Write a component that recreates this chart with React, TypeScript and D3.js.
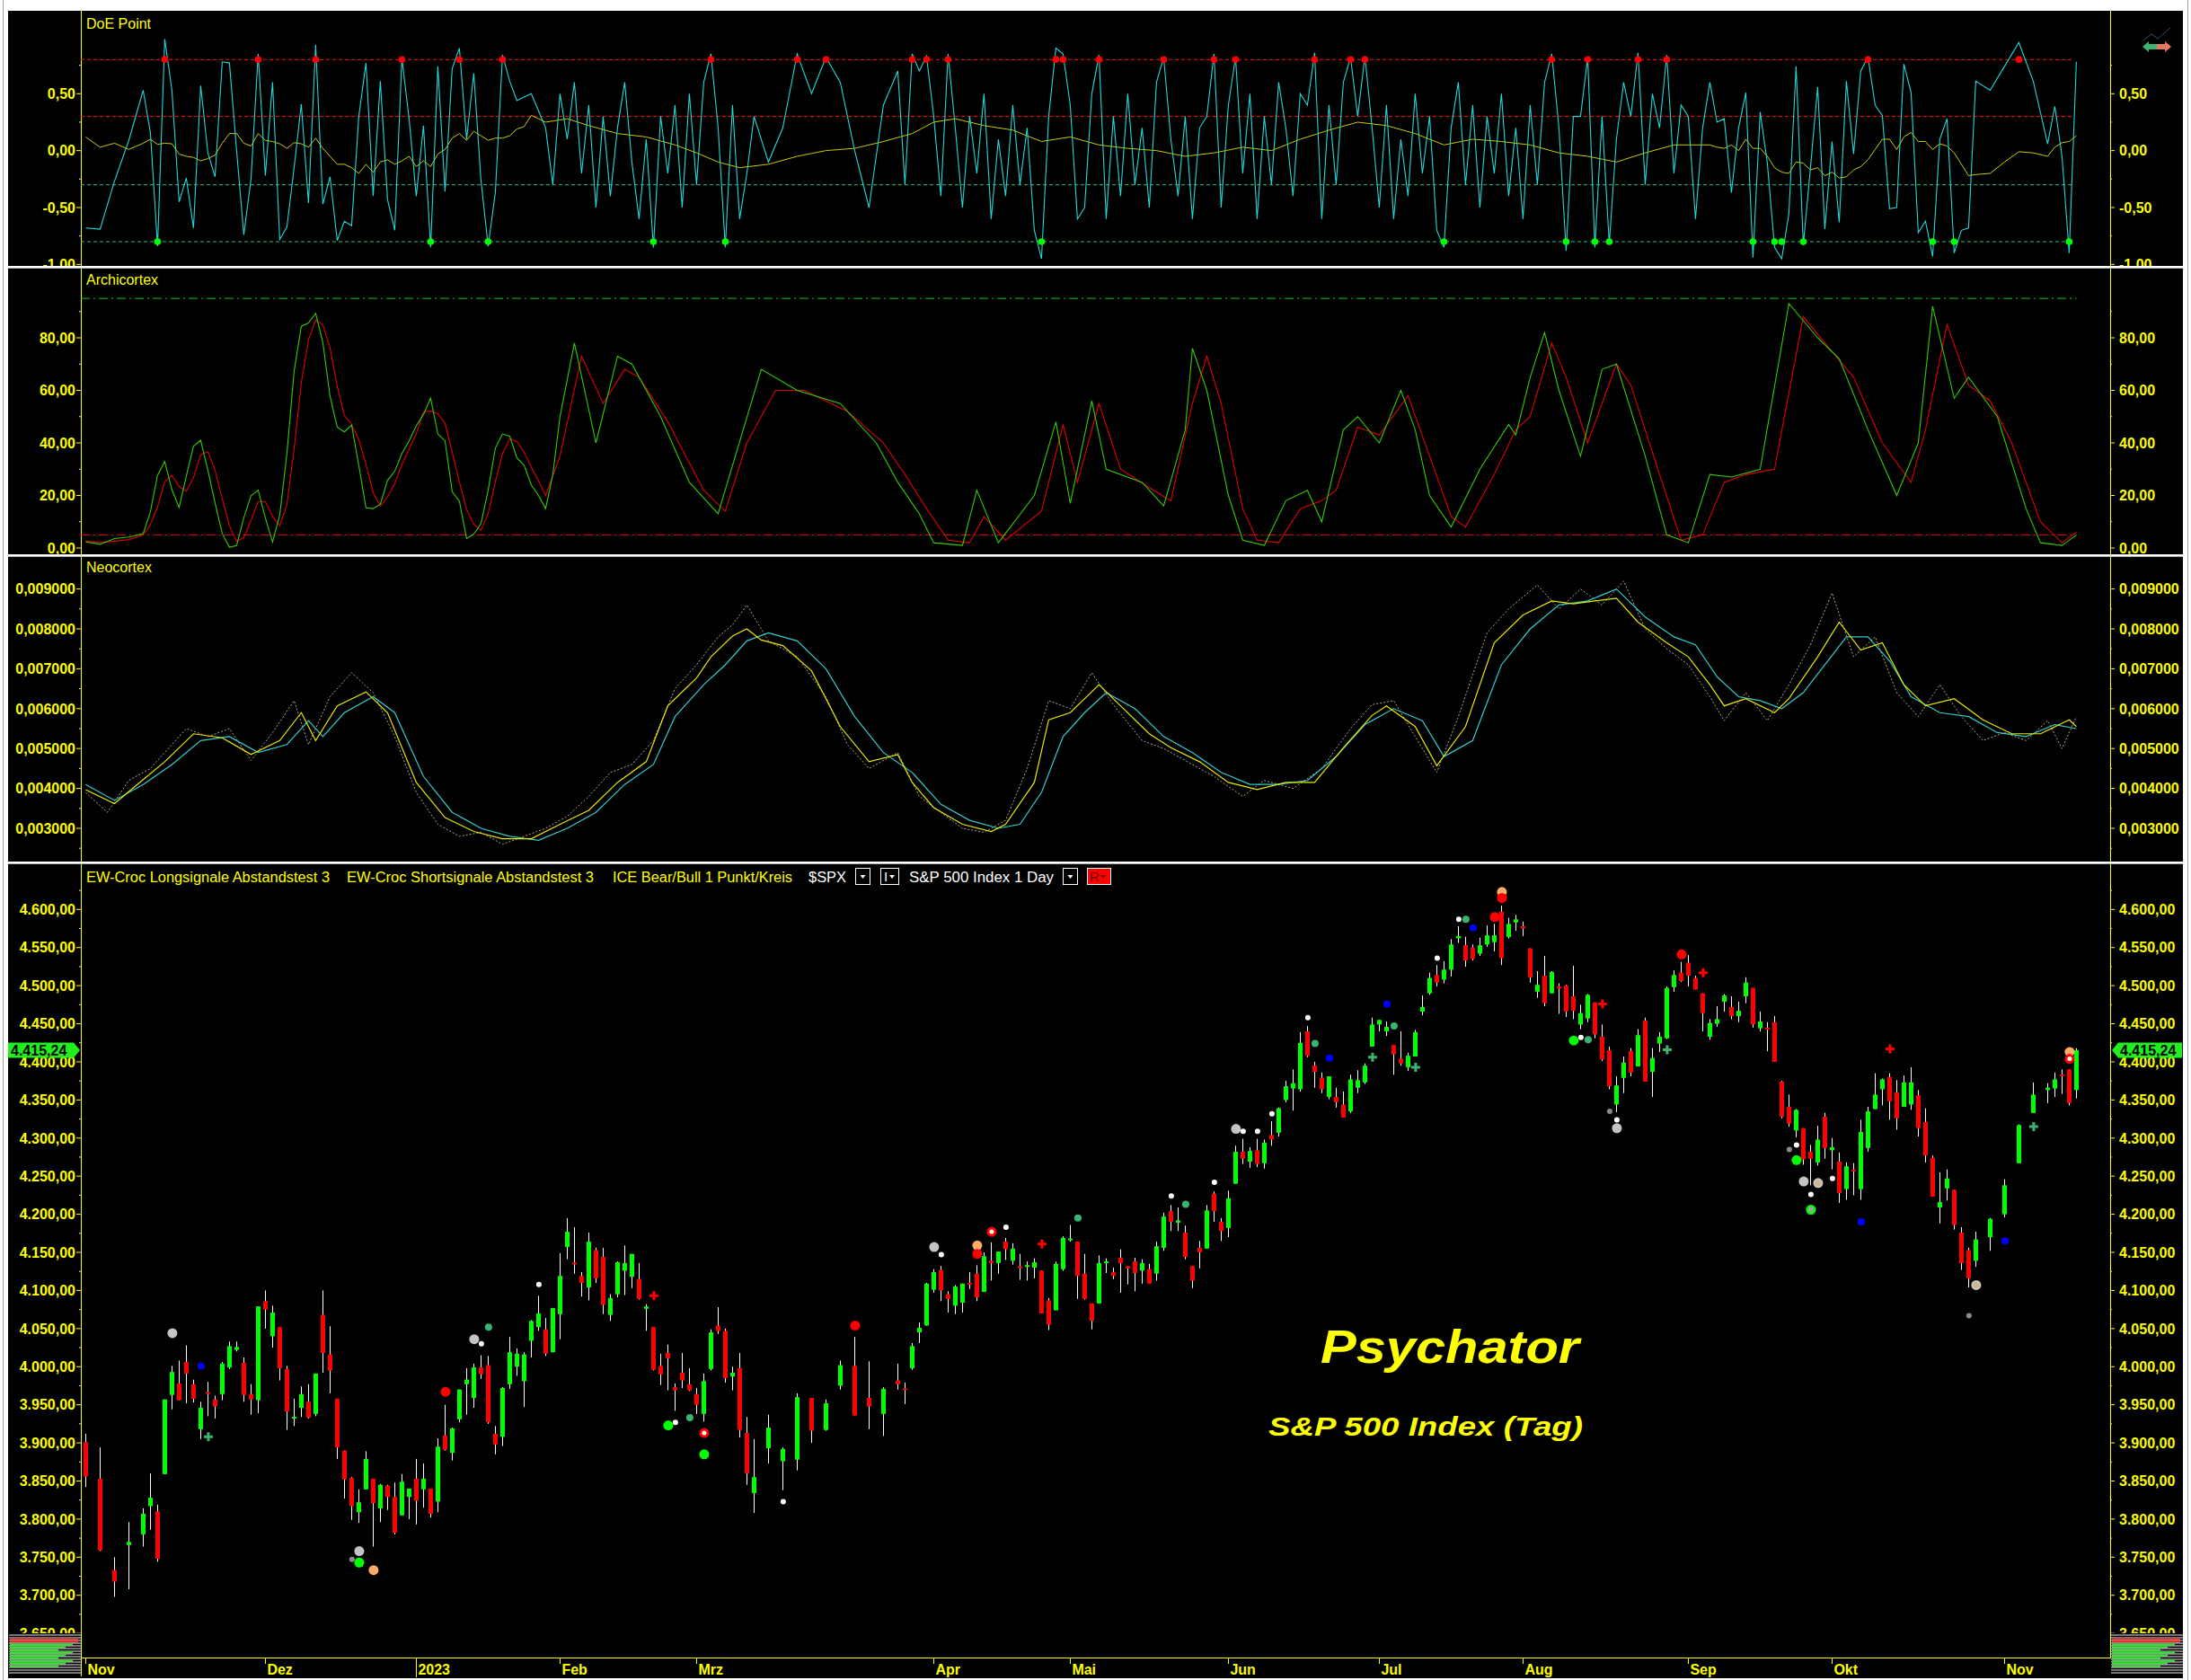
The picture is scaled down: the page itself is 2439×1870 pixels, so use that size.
import React from "react";
import * as d3 from "d3";

// ---------------- DATA ----------------
// bar slot index on the time axis (trading days, with gaps as in the source chart)
const barSlot = [
  0, 2, 4, 6, 8, 9, 10, 11, 12, 13,
  14, 15, 16, 17, 18, 19, 20, 21, 22, 23,
  24, 25, 26, 27, 28, 29, 30, 31, 32, 33,
  34, 35, 36, 37, 38, 39, 40, 41, 42, 43,
  44, 45, 46, 47, 48, 49, 50, 51, 52, 53,
  54, 55, 56, 57, 58, 59, 60, 61, 62, 63,
  64, 65, 66, 67, 68, 69, 70, 71, 72, 73,
  74, 75, 76, 77, 78, 79, 80, 81, 82, 83,
  84, 85, 86, 87, 88, 89, 90, 91, 92, 93,
  95, 97, 99, 101, 103, 105, 107, 109, 111, 113,
  114, 115, 116, 117, 118, 119, 120, 121, 122, 123,
  124, 125, 126, 127, 128, 129, 130, 131, 132, 133,
  134, 135, 136, 137, 138, 139, 140, 141, 142, 143,
  144, 145, 146, 147, 148, 149, 150, 151, 152, 153,
  154, 155, 156, 157, 158, 159, 160, 161, 162, 163,
  164, 165, 166, 167, 168, 169, 170, 171, 172, 173,
  174, 175, 176, 177, 178, 179, 180, 181, 182, 183,
  184, 185, 186, 187, 188, 189, 190, 191, 192, 193,
  194, 195, 196, 197, 198, 199, 200, 201, 202, 203,
  204, 205, 206, 207, 208, 209, 210, 211, 212, 213,
  214, 215, 216, 217, 218, 219, 220, 221, 222, 223,
  224, 225, 226, 227, 228, 229, 230, 231, 232, 233,
  234, 235, 236, 237, 238, 239, 240, 241, 242, 243,
  244, 245, 246, 247, 248, 249, 250, 251, 252, 253,
  254, 255, 256, 257, 258, 259, 260, 261, 262, 263,
  265, 267, 269, 271, 273, 274, 275, 276, 277,
];
const barOpen = [
  3901, 3853, 3733, 3766, 3780, 3817, 3810, 3859, 3963, 3978,
  4006, 3977, 3918, 3966, 3957, 3964, 3999, 4022, 4005, 3964,
  3956, 4086, 4040, 4052, 3997, 3932, 3946, 3954, 3938, 4068,
  4016, 3958, 3890, 3854, 3809, 3839, 3853, 3814, 3844, 3829,
  3805, 3829, 3853, 3839, 3840, 3823, 3910, 3887, 3931, 3977,
  3959, 3999, 4002, 3912, 3908, 3977, 4000, 3981, 4034, 4052,
  4049, 4019, 4069, 4157, 4136, 4119, 4104, 4153, 4144, 4068,
  4095, 4126, 4118, 4115, 4076, 4052, 4001, 4018, 3973, 3992,
  3977, 3964, 3938, 3997, 4054, 4047, 3987, 3998, 3913, 3834,
  3893, 3876, 3878, 3959, 3917, 3975, 4001, 3959, 3938, 3982,
  3971, 3998, 4045, 4054, 4101, 4127, 4095, 4080, 4084, 4110,
  4122, 4098, 4139, 4136, 4164, 4139, 4131, 4131, 4130, 4126,
  4087, 4074, 4128, 4166, 4164, 4122, 4083, 4083, 4136, 4124,
  4143, 4132, 4138, 4126, 4128, 4122, 4156, 4204, 4189, 4176,
  4132, 4156, 4155, 4227, 4190, 4182, 4240, 4282, 4269, 4284,
  4267, 4304, 4307, 4350, 4365, 4364, 4440, 4395, 4379, 4354,
  4354, 4344, 4335, 4366, 4373, 4420, 4449, 4440, 4422, 4404,
  4393, 4407, 4466, 4490, 4514, 4508, 4521, 4562, 4553, 4550,
  4542, 4554, 4557, 4597, 4564, 4583, 4578, 4549, 4492, 4513,
  4490, 4499, 4500, 4486, 4449, 4457, 4478, 4433, 4415, 4344,
  4379, 4414, 4394, 4454, 4387, 4424, 4431, 4498, 4517, 4530,
  4510, 4490, 4433, 4450, 4479, 4472, 4460, 4486, 4497, 4444,
  4444, 4452, 4374, 4341, 4310, 4313, 4282, 4268, 4328, 4284,
  4269, 4233, 4258, 4233, 4287, 4338, 4364, 4380, 4360, 4341,
  4344, 4356, 4321, 4274, 4209, 4234, 4232, 4176, 4153, 4139,
  4170, 4200, 4267, 4333, 4363, 4365, 4383, 4390, 4363,
];
const barHigh = [
  3912, 3894, 3750, 3796, 3814, 3860, 3819, 3957, 4001, 4008,
  4028, 3983, 3954, 3980, 3962, 4006, 4033, 4033, 4012, 3977,
  4079, 4100, 4080, 4052, 4001, 3958, 3974, 3977, 3991, 4100,
  4053, 3958, 3890, 3855, 3839, 3889, 3853, 3846, 3845, 3848,
  3859, 3840, 3879, 3873, 3840, 3906, 3950, 3920, 3970, 3998,
  4004, 4015, 4014, 3922, 3973, 4039, 4024, 4019, 4061, 4093,
  4064, 4077, 4149, 4195, 4183, 4124, 4176, 4156, 4156, 4095,
  4138, 4159, 4148, 4136, 4082, 4052, 4017, 4029, 3978, 4018,
  3998, 3972, 3991, 4049, 4078, 4050, 4000, 4018, 3934, 3905,
  3937, 3894, 3965, 3959, 3957, 4008, 4039, 4007, 3973, 4004,
  3979, 4031, 4058, 4110, 4128, 4132, 4099, 4107, 4109, 4124,
  4133, 4150, 4163, 4151, 4169, 4162, 4148, 4138, 4142, 4126,
  4090, 4138, 4171, 4186, 4164, 4148, 4083, 4146, 4142, 4130,
  4154, 4132, 4143, 4141, 4135, 4164, 4202, 4212, 4209, 4185,
  4132, 4165, 4212, 4230, 4195, 4231, 4290, 4299, 4288, 4299,
  4298, 4322, 4340, 4375, 4390, 4439, 4447, 4400, 4386, 4381,
  4366, 4361, 4383, 4389, 4398, 4458, 4455, 4453, 4422, 4440,
  4412, 4442, 4487, 4517, 4527, 4532, 4561, 4578, 4564, 4554,
  4563, 4579, 4581, 4605, 4589, 4593, 4584, 4549, 4519, 4539,
  4519, 4503, 4501, 4526, 4475, 4489, 4478, 4449, 4420, 4381,
  4407, 4418, 4443, 4458, 4418, 4439, 4499, 4520, 4531, 4540,
  4513, 4490, 4456, 4473, 4489, 4486, 4479, 4511, 4497, 4466,
  4452, 4460, 4375, 4357, 4338, 4313, 4291, 4316, 4333, 4300,
  4281, 4268, 4267, 4324, 4341, 4385, 4378, 4385, 4376, 4382,
  4393, 4363, 4339, 4277, 4255, 4259, 4232, 4183, 4156, 4177,
  4195, 4246, 4318, 4373, 4372, 4386, 4390, 4390, 4418,
];
const barLow = [
  3842, 3758, 3698, 3708, 3764, 3786, 3744, 3859, 3944, 3956,
  3952, 3953, 3905, 3935, 3932, 3956, 3997, 4020, 3954, 3937,
  3939, 4050, 4025, 3982, 3917, 3922, 3934, 3932, 3935, 3992,
  3965, 3879, 3827, 3799, 3795, 3839, 3764, 3796, 3812, 3780,
  3805, 3800, 3793, 3815, 3802, 3809, 3890, 3877, 3927, 3937,
  3946, 3984, 3925, 3885, 3896, 3971, 3988, 3947, 4012, 4047,
  4014, 4019, 4036, 4141, 4122, 4092, 4087, 4110, 4069, 4060,
  4091, 4094, 4103, 4088, 4047, 3995, 3976, 3969, 3942, 3972,
  3968, 3938, 3928, 3995, 4043, 3979, 3969, 3907, 3845, 3808,
  3873, 3838, 3864, 3900, 3916, 3970, 3936, 3918, 3909, 3970,
  3951, 3996, 4031, 4054, 4097, 4086, 4071, 4069, 4071, 4102,
  4086, 4098, 4113, 4122, 4140, 4134, 4114, 4113, 4116, 4070,
  4048, 4074, 4126, 4164, 4089, 4088, 4049, 4083, 4123, 4115,
  4097, 4108, 4099, 4109, 4109, 4113, 4152, 4178, 4178, 4141,
  4103, 4129, 4155, 4190, 4165, 4170, 4240, 4266, 4261, 4262,
  4260, 4290, 4302, 4347, 4336, 4361, 4406, 4366, 4359, 4351,
  4340, 4327, 4333, 4359, 4371, 4420, 4440, 4434, 4383, 4395,
  4388, 4407, 4461, 4488, 4499, 4503, 4512, 4556, 4525, 4533,
  4539, 4551, 4545, 4527, 4562, 4572, 4565, 4504, 4484, 4473,
  4490, 4463, 4459, 4456, 4443, 4452, 4431, 4401, 4364, 4334,
  4359, 4381, 4394, 4374, 4354, 4413, 4430, 4492, 4505, 4499,
  4495, 4440, 4429, 4446, 4466, 4456, 4452, 4477, 4445, 4440,
  4414, 4400, 4326, 4315, 4301, 4265, 4238, 4264, 4273, 4259,
  4215, 4219, 4225, 4219, 4282, 4338, 4343, 4324, 4311, 4341,
  4337, 4302, 4268, 4223, 4188, 4218, 4180, 4127, 4104, 4131,
  4152, 4196, 4267, 4333, 4346, 4354, 4358, 4343, 4352,
];
const barClose = [
  3856, 3759, 3718, 3770, 3807, 3828, 3748, 3957, 3993, 3956,
  3991, 3958, 3946, 3965, 3948, 4004, 4027, 4026, 3963, 3957,
  4079, 4075, 4071, 3998, 3941, 3934, 3964, 3933, 3991, 4018,
  3995, 3894, 3852, 3817, 3822, 3879, 3821, 3845, 3829, 3782,
  3849, 3840, 3824, 3853, 3807, 3895, 3891, 3919, 3970, 3983,
  3999, 3990, 3927, 3898, 3972, 4019, 4017, 4016, 4060, 4070,
  4017, 4077, 4119, 4177, 4135, 4110, 4164, 4116, 4081, 4090,
  4137, 4136, 4148, 4089, 4079, 3996, 3990, 4011, 3969, 3982,
  3969, 3950, 3981, 4045, 4047, 3985, 3992, 3917, 3860, 3855,
  3920, 3892, 3960, 3916, 3952, 4002, 3936, 3948, 3971, 3977,
  3970, 4027, 4051, 4109, 4124, 4100, 4089, 4105, 4109, 4108,
  4091, 4145, 4136, 4151, 4154, 4155, 4130, 4133, 4137, 4070,
  4055, 4135, 4169, 4168, 4119, 4089, 4060, 4136, 4138, 4119,
  4136, 4129, 4123, 4136, 4109, 4158, 4197, 4190, 4192, 4144,
  4113, 4150, 4205, 4204, 4178, 4221, 4282, 4273, 4283, 4266,
  4294, 4298, 4339, 4368, 4372, 4425, 4408, 4387, 4364, 4381,
  4347, 4327, 4377, 4376, 4395, 4449, 4455, 4446, 4410, 4398,
  4408, 4439, 4472, 4510, 4504, 4521, 4554, 4565, 4533, 4535,
  4553, 4566, 4566, 4536, 4581, 4587, 4575, 4511, 4501, 4477,
  4518, 4496, 4466, 4467, 4464, 4488, 4436, 4403, 4368, 4369,
  4399, 4386, 4435, 4374, 4405, 4433, 4497, 4514, 4506, 4513,
  4495, 4464, 4451, 4456, 4487, 4460, 4467, 4504, 4449, 4453,
  4443, 4400, 4328, 4319, 4337, 4272, 4273, 4298, 4287, 4288,
  4228, 4263, 4257, 4308, 4335, 4357, 4377, 4348, 4326, 4373,
  4373, 4313, 4277, 4223, 4216, 4247, 4186, 4136, 4116, 4167,
  4194, 4238, 4317, 4357, 4366, 4377, 4382, 4346, 4415.24,
];

// signal markers on the price chart: [slot, price, kind]
const priceMarkers: [number, number, string][] = [
  [12, 4044, "gray"], [16, 4001, "blue"], [17, 3908, "tealCross"], [50, 3967, "red"],
  [54, 4036, "gray"], [55, 4030, "white"], [56, 4052, "teal"], [63, 4108, "white"],
  [38, 3758, "gray"], [37, 3747, "graySmall"], [38, 3743, "green"], [40, 3733, "orange"],
  [79, 4093, "redCross"], [81, 3923, "green"], [82, 3927, "white"], [84, 3933, "teal"],
  [86, 3913, "redRing"], [86, 3885, "green"], [97, 3823, "white"], [107, 4054, "red"],
  [118, 4157, "gray"], [119, 4147, "white"], [124, 4159, "orange"], [124, 4148, "red"],
  [126, 4177, "redRing"], [128, 4183, "white"], [133, 4161, "redCross"], [138, 4195, "teal"],
  [151, 4224, "white"], [153, 4213, "teal"], [157, 4242, "white"], [160, 4312, "gray"],
  [161, 4309, "white"], [163, 4309, "white"], [165, 4332, "white"], [170, 4458, "white"],
  [171, 4424, "teal"], [173, 4405, "blue"], [179, 4406, "tealCross"], [181, 4476, "blue"],
  [182, 4447, "teal"], [185, 4393, "tealCross"], [188, 4536, "white"], [191, 4587, "white"],
  [192, 4587, "teal"], [193, 4576, "blue"], [196, 4590, "red"], [197, 4623, "orange"],
  [197, 4615, "red"], [207, 4428, "green"], [208, 4432, "white"], [209, 4429, "teal"],
  [211, 4476, "redCross"], [220, 4416, "tealCross"], [222, 4541, "red"], [225, 4517, "redCross"],
  [212, 4335, "graySmall"], [213, 4324, "white"], [213, 4313, "gray"], [251, 4417, "redCross"],
  [271, 4315, "tealCross"], [237, 4285, "graySmall"], [238, 4291, "white"], [238, 4271, "green"],
  [239, 4243, "gray"], [241, 4241, "tan"], [243, 4247, "white"], [240, 4226, "white"],
  [240, 4206, "greenRing"], [247, 4190, "blue"], [267, 4165, "blue"], [263, 4107, "tan"],
  [262, 4067, "graySmall"], [276, 4413, "orange"], [276, 4404, "redRing"],
];

// DoE Point oscillator: [slot, value]
const doeCyan: [number, number][] = [
  [0, -0.68], [2, -0.69], [4, -0.27], [6, 0.09], [8, 0.53], [9, 0.16], [10, -0.84], [11, 0.98], [12, 0.53], [13, -0.45],
  [14, -0.24], [15, -0.68], [16, 0.57], [17, -0.02], [18, -0.23], [19, 0.78], [20, 0.77], [21, 0.0], [22, -0.74], [23, -0.25],
  [24, 0.85], [25, -0.22], [26, 0.6], [27, -0.78], [28, -0.67], [29, -0.15], [30, 0.41], [31, -0.46], [32, 0.93], [33, -0.47],
  [34, -0.23], [35, -0.79], [36, -0.62], [37, -0.66], [38, 0.3], [39, 0.77], [40, -0.4], [41, 0.61], [42, -0.43], [43, -0.7],
  [44, 0.81], [45, 0.28], [46, -0.4], [47, 0.22], [48, -0.85], [49, 0.74], [50, -0.36], [51, 0.72], [52, 0.9], [53, 0.1],
  [54, 0.68], [55, -0.26], [56, -0.84], [57, -0.37], [58, 0.84], [59, 0.61], [60, 0.44], [61, 0.47], [62, 0.5], [63, 0.35],
  [64, 0.2], [65, -0.3], [66, 0.5], [67, 0.1], [68, 0.6], [69, -0.2], [70, 0.4], [71, -0.5], [72, 0.3], [73, -0.4],
  [74, 0.2], [75, 0.6], [76, -0.1], [77, -0.6], [78, 0.1], [79, -0.85], [80, 0.3], [81, -0.2], [82, 0.4], [83, -0.5],
  [84, 0.5], [85, -0.3], [86, 0.6], [87, 0.85], [88, 0.2], [89, -0.85], [90, 0.4], [91, -0.6], [92, -0.2], [93, 0.3],
  [95, -0.1], [97, 0.2], [99, 0.85], [101, 0.5], [103, 0.82], [105, 0.6], [107, 0.0], [109, -0.5], [111, 0.4], [113, 0.7],
  [114, -0.3], [115, 0.85], [116, 0.7], [117, 0.83], [118, 0.3], [119, -0.4], [120, 0.85], [121, 0.2], [122, -0.5], [123, 0.3],
  [124, -0.2], [125, 0.5], [126, -0.6], [127, 0.1], [128, -0.4], [129, 0.4], [130, -0.3], [131, 0.2], [132, -0.7], [133, -0.95],
  [134, 0.3], [135, 0.9], [136, 0.85], [137, 0.4], [138, -0.6], [139, -0.5], [140, 0.5], [141, 0.84], [142, -0.6], [143, 0.3],
  [144, -0.4], [145, 0.5], [146, -0.3], [147, 0.2], [148, -0.5], [149, 0.6], [150, 0.82], [151, 0.1], [152, -0.4], [153, 0.3],
  [154, -0.6], [155, 0.2], [156, 0.3], [157, 0.85], [158, -0.5], [159, 0.4], [160, 0.82], [161, -0.2], [162, 0.5], [163, -0.6],
  [164, 0.3], [165, -0.3], [166, 0.6], [167, 0.2], [168, -0.4], [169, 0.5], [170, 0.4], [171, 0.86], [172, -0.6], [173, 0.4],
  [174, -0.3], [175, 0.6], [176, 0.82], [177, 0.3], [178, 0.83], [179, 0.2], [180, -0.5], [181, 0.4], [182, -0.6], [183, 0.1],
  [184, -0.4], [185, 0.5], [186, -0.2], [187, 0.3], [188, -0.7], [189, -0.85], [190, 0.2], [191, 0.6], [192, -0.3], [193, 0.4],
  [194, -0.5], [195, 0.3], [196, -0.2], [197, 0.5], [198, -0.4], [199, 0.2], [200, -0.6], [201, 0.4], [202, -0.3], [203, 0.6],
  [204, 0.85], [205, 0.2], [206, -0.88], [207, 0.3], [208, 0.3], [209, 0.82], [210, -0.85], [211, 0.3], [212, -0.82], [213, 0.1],
  [214, 0.6], [215, 0.3], [216, 0.86], [217, -0.3], [218, 0.5], [219, 0.2], [220, 0.84], [221, -0.2], [222, 0.4], [223, 0.3],
  [224, -0.6], [225, 0.2], [226, 0.6], [227, 0.25], [228, 0.28], [229, -0.37], [230, 0.2], [231, 0.51], [232, -0.94], [233, 0.34],
  [234, -0.11], [235, -0.85], [236, -0.95], [237, -0.55], [238, 0.74], [239, -0.83], [240, -0.15], [241, 0.56], [242, -0.69], [243, 0.08],
  [244, -0.63], [245, 0.61], [246, -0.03], [247, 0.7], [248, 0.82], [249, 0.4], [250, 0.31], [251, -0.51], [252, -0.5], [253, 0.76],
  [254, 0.51], [255, -0.72], [256, -0.62], [257, -0.93], [258, 0.1], [259, 0.28], [260, -0.9], [261, -0.7], [262, -0.68], [263, 0.61],
  [265, 0.53], [267, 0.74], [269, 0.95], [271, 0.61], [273, 0.06], [274, 0.39], [275, -0.05], [276, -0.9], [277, 0.78],
];
const doeYellow: [number, number][] = [
  [0, 0.12], [2, 0.03], [4, 0.065], [6, 0.01], [8, 0.065], [9, 0.1], [10, 0.055], [11, 0.065], [12, 0.06], [13, -0.03],
  [14, -0.05], [15, -0.06], [16, -0.09], [17, -0.07], [18, -0.04], [19, 0.065], [20, 0.15], [21, 0.15], [22, 0.065], [23, 0.04],
  [24, 0.15], [25, 0.09], [26, 0.08], [27, 0.06], [28, 0.02], [29, 0.07], [30, 0.06], [31, 0.03], [32, 0.11], [33, 0.02],
  [34, -0.05], [35, -0.12], [36, -0.12], [37, -0.15], [38, -0.2], [39, -0.12], [40, -0.19], [41, -0.1], [42, -0.08], [43, -0.12],
  [44, -0.09], [45, -0.05], [46, -0.14], [47, -0.09], [48, -0.14], [49, -0.03], [50, 0.01], [51, 0.11], [52, 0.15], [53, 0.09],
  [54, 0.17], [55, 0.13], [56, 0.09], [57, 0.11], [58, 0.11], [59, 0.13], [60, 0.19], [61, 0.21], [62, 0.31], [63, 0.28],
  [64, 0.25], [67, 0.28], [70, 0.22], [74, 0.15], [78, 0.12], [82, 0.05], [85, -0.02], [88, -0.1], [91, -0.15], [95, -0.12],
  [99, -0.05], [103, 0.0], [107, 0.02], [111, 0.08], [115, 0.15], [118, 0.25], [121, 0.28], [125, 0.22], [129, 0.18], [133, 0.08],
  [137, 0.12], [141, 0.05], [145, 0.02], [149, 0.0], [153, -0.05], [157, -0.02], [161, 0.03], [165, 0.0], [169, 0.1], [173, 0.18],
  [177, 0.25], [181, 0.22], [185, 0.15], [189, 0.05], [193, 0.1], [197, 0.08], [201, 0.05], [205, -0.02], [209, -0.05], [213, -0.1],
  [217, -0.02], [221, 0.05], [226, 0.05], [227, 0.03], [228, 0.02], [229, 0.05], [230, 0.0], [231, 0.1], [232, 0.02], [233, 0.02],
  [234, -0.05], [235, -0.15], [236, -0.19], [237, -0.2], [238, -0.1], [239, -0.11], [240, -0.17], [241, -0.15], [242, -0.22], [243, -0.19],
  [244, -0.24], [245, -0.23], [246, -0.17], [247, -0.14], [248, -0.08], [249, 0.01], [250, 0.1], [251, 0.1], [252, 0.01], [253, 0.12],
  [254, 0.16], [255, 0.08], [256, 0.08], [257, 0.01], [258, 0.06], [259, 0.04], [260, -0.02], [261, -0.12], [262, -0.22], [263, -0.21],
  [265, -0.2], [267, -0.1], [269, -0.01], [271, -0.02], [273, -0.05], [274, 0.03], [275, 0.07], [276, 0.08], [277, 0.13],
];

// Archicortex: [slot, value]
const archiGreen: [number, number][] = [
  [0, 2.3], [2, 1.4], [4, 3.6], [6, 4.2], [8, 5.5], [9, 13.7], [10, 27.7], [11, 32.9], [12, 22.2], [13, 15.4],
  [14, 27.4], [15, 38.8], [16, 41], [17, 29.6], [18, 17.1], [19, 5.5], [20, 0.3], [21, 0.9], [22, 11.5], [23, 19.9],
  [24, 22], [25, 11.4], [26, 2.3], [27, 12.5], [28, 36], [29, 67.3], [30, 84.4], [31, 85.6], [32, 89.3], [33, 78.2],
  [34, 57.7], [35, 46], [36, 44.2], [37, 46.8], [38, 31.5], [39, 15.3], [40, 15], [41, 16.7], [42, 25.8], [43, 29.2],
  [44, 36], [45, 40.8], [46, 46.5], [47, 50.8], [48, 57], [49, 43.4], [50, 40.8], [51, 21.4], [52, 17.8], [53, 3.6],
  [54, 5.3], [55, 9.3], [56, 22], [57, 38], [58, 43.4], [59, 42.6], [60, 34.3], [61, 31.5], [62, 24], [63, 20],
  [64, 15], [65, 28], [66, 50], [68, 78], [71, 40], [74, 73], [76, 70], [80, 50], [84, 25], [88, 13],
  [94, 68], [99, 60], [105, 55], [110, 40], [113, 25], [116, 13], [118, 2], [122, 1], [124, 22], [127, 2],
  [132, 20], [135, 48], [137, 17], [140, 56], [142, 30], [147, 25], [150, 16], [153, 45], [154, 76], [156, 60],
  [159, 20], [161, 3], [164, 1], [167, 18], [170, 22], [172, 10], [175, 45], [177, 50], [180, 40], [183, 60],
  [185, 45], [187, 20], [190, 8], [194, 30], [198, 47], [199, 43], [201, 65], [203, 82], [205, 60], [208, 35],
  [211, 68], [213, 70], [217, 35], [220, 5], [223, 2], [226, 28], [229, 27], [233, 30], [237, 93], [241, 80],
  [244, 72], [248, 45], [252, 20], [255, 40], [257, 92], [260, 57], [262, 65], [266, 50], [270, 15], [272, 2],
  [275, 1], [277, 5],
];
const archiRed: [number, number][] = [
  [0, 2.6], [2, 2.1], [4, 2.6], [6, 3.2], [8, 5.0], [9, 8.9], [10, 15.7], [11, 25.3], [12, 27.6], [13, 23.4],
  [14, 21.6], [15, 26.8], [16, 35.5], [17, 36.7], [18, 29.6], [19, 18.8], [20, 8.5], [21, 2.5], [22, 4], [23, 10.5],
  [24, 17.7], [25, 17.7], [26, 12], [27, 8.5], [28, 16.5], [29, 37.6], [30, 62.9], [31, 79.3], [32, 86.7], [33, 85],
  [34, 76.2], [35, 61.6], [36, 50.4], [37, 47], [38, 41.3], [39, 31.9], [40, 21.1], [41, 16], [42, 19.4], [43, 24.5],
  [44, 31.9], [45, 37.6], [46, 43.5], [47, 51.9], [48, 52.1], [49, 51.1], [50, 47.4], [51, 36.5], [52, 25.1], [53, 14.8],
  [54, 9.1], [55, 6.8], [56, 13.1], [57, 25.1], [58, 35.9], [59, 41.6], [60, 40.5], [61, 36.5], [62, 30.8], [63, 25.6],
  [64, 20], [66, 35], [69, 73], [72, 55], [75, 68], [77, 65], [81, 48], [86, 22], [89, 14], [92, 40],
  [96, 60], [100, 60], [106, 52], [111, 40], [114, 28], [117, 15], [120, 3], [123, 2], [125, 12], [128, 3],
  [133, 14], [136, 47], [138, 25], [141, 55], [144, 30], [148, 23], [151, 18], [154, 55], [156, 73], [158, 55],
  [161, 15], [163, 3], [166, 2], [169, 15], [172, 18], [174, 22], [177, 46], [180, 43], [184, 58], [187, 35],
  [190, 12], [192, 8], [196, 28], [199, 45], [201, 50], [204, 78], [206, 65], [209, 40], [213, 70], [215, 62],
  [219, 28], [222, 3], [225, 5], [228, 25], [231, 28], [235, 30], [239, 88], [242, 78], [246, 65], [250, 40],
  [254, 25], [256, 45], [259, 85], [262, 62], [265, 56], [268, 40], [272, 10], [275, 2], [277, 6],
];

// Neocortex: [slot, value]
const neoYellow: [number, number][] = [
  [0, 0.00397], [4, 0.00362], [8, 0.00422], [11, 0.00467], [15, 0.00537], [19, 0.00527], [23, 0.00485], [27, 0.0052],
  [30, 0.0059], [32, 0.0052], [35, 0.00607], [39, 0.00642], [42, 0.0059], [46, 0.00415], [50, 0.00327], [54, 0.00292],
  [58, 0.00274], [62, 0.00274], [66, 0.0031], [70, 0.00345], [74, 0.00415], [78, 0.00467], [81, 0.00607], [85, 0.00677],
  [87, 0.0073], [90, 0.00782], [92, 0.008], [94, 0.00772], [97, 0.00758], [101, 0.00695], [105, 0.00555], [109, 0.00467],
  [113, 0.00485], [115, 0.00415], [118, 0.00352], [122, 0.0031], [126, 0.00292], [128, 0.0031], [132, 0.00415], [134, 0.00572],
  [137, 0.0059], [141, 0.0066], [144, 0.00607], [148, 0.00537], [151, 0.00502], [155, 0.00467], [159, 0.00415], [163, 0.00397],
  [167, 0.00415], [171, 0.00415], [175, 0.00502], [179, 0.00583], [181, 0.00607], [185, 0.00555], [188, 0.00457], [192, 0.00555],
  [196, 0.00765], [200, 0.00835], [204, 0.0087], [207, 0.00863], [210, 0.0087], [213, 0.00877], [216, 0.00817], [220, 0.00765],
  [223, 0.0073], [226, 0.0066], [228, 0.00607], [231, 0.00625], [235, 0.0059], [237, 0.00625], [241, 0.0073], [244, 0.00817],
  [247, 0.00747], [250, 0.00765], [253, 0.0066], [256, 0.00607], [260, 0.00625], [264, 0.00572], [268, 0.00537], [272, 0.00537],
  [276, 0.00572], [277, 0.00555],
];
const neoCyan: [number, number][] = [
  [0, 0.0041], [4, 0.0037], [8, 0.0041], [12, 0.0046], [16, 0.0052], [20, 0.0053], [24, 0.0049], [28, 0.0051],
  [31, 0.0057], [33, 0.0053], [36, 0.0059], [40, 0.0063], [43, 0.0059], [47, 0.0043], [51, 0.0034], [55, 0.003],
  [59, 0.0028], [63, 0.0027], [67, 0.003], [71, 0.0034], [75, 0.0041], [79, 0.0046], [82, 0.0058], [86, 0.0066],
  [89, 0.0071], [92, 0.0077], [95, 0.0079], [99, 0.0077], [103, 0.007], [107, 0.0058], [111, 0.0049], [115, 0.0044],
  [119, 0.0036], [123, 0.0032], [127, 0.003], [130, 0.0031], [133, 0.0039], [136, 0.0053], [139, 0.0059], [142, 0.0064],
  [146, 0.006], [150, 0.0053], [154, 0.0049], [158, 0.0044], [162, 0.0041], [166, 0.0041], [170, 0.0042], [174, 0.0048],
  [178, 0.0056], [182, 0.006], [186, 0.0057], [189, 0.0048], [193, 0.0052], [197, 0.0071], [201, 0.008], [205, 0.0086],
  [209, 0.0087], [213, 0.009], [217, 0.0083], [221, 0.0078], [224, 0.0076], [227, 0.0068], [230, 0.0063], [233, 0.0062],
  [236, 0.006], [239, 0.0064], [242, 0.0071], [245, 0.0078], [248, 0.0078], [251, 0.0072], [254, 0.0063], [258, 0.0059],
  [262, 0.0058], [266, 0.0054], [270, 0.0053], [274, 0.0056], [277, 0.0055],
];
const neoDotted: [number, number][] = [
  [0, 0.0039], [3, 0.0034], [6, 0.0042], [9, 0.0045], [11, 0.0049], [14, 0.0055], [17, 0.0053], [20, 0.0055],
  [23, 0.0047], [26, 0.0054], [29, 0.0062], [31, 0.0051], [34, 0.0063], [37, 0.0069], [40, 0.0064], [43, 0.0053],
  [46, 0.0039], [49, 0.0031], [52, 0.0028], [55, 0.0029], [58, 0.0026], [61, 0.0028], [64, 0.003], [67, 0.0033],
  [70, 0.0038], [73, 0.0044], [76, 0.0046], [79, 0.0052], [82, 0.0065], [85, 0.0071], [88, 0.0078], [90, 0.0081],
  [92, 0.0086], [95, 0.0077], [99, 0.0073], [103, 0.0063], [106, 0.0051], [109, 0.0045], [113, 0.0049], [116, 0.0038],
  [119, 0.0034], [122, 0.003], [125, 0.0029], [128, 0.0032], [131, 0.0045], [134, 0.0062], [137, 0.006], [140, 0.0069],
  [143, 0.0061], [147, 0.0052], [150, 0.005], [154, 0.0046], [157, 0.0043], [161, 0.0038], [164, 0.0042], [168, 0.004],
  [172, 0.0045], [176, 0.0055], [179, 0.0061], [182, 0.0062], [185, 0.0053], [188, 0.0044], [191, 0.0058], [195, 0.0079],
  [198, 0.0085], [202, 0.0091], [205, 0.0085], [208, 0.009], [211, 0.0086], [214, 0.0092], [217, 0.008], [220, 0.0075],
  [223, 0.0071], [226, 0.0063], [228, 0.0057], [231, 0.0064], [234, 0.0057], [237, 0.0066], [240, 0.0076], [243, 0.0089],
  [246, 0.0073], [249, 0.0078], [252, 0.0064], [255, 0.0058], [258, 0.0066], [261, 0.0058], [264, 0.0052], [267, 0.0054],
  [270, 0.0052], [273, 0.0057], [275, 0.005], [277, 0.0058],
];

// axis ticks / labels
const monthSlots = [0, 25, 46, 66, 85, 118, 137, 159, 180, 200, 223, 243, 267];
const monthLabels = ["Nov", "Dez", "2023", "Feb", "Mrz", "Apr", "Mai", "Jun", "Jul", "Aug", "Sep", "Okt", "Nov"];
const priceTicks = [3650, 3700, 3750, 3800, 3850, 3900, 3950, 4000, 4050, 4100, 4150, 4200, 4250, 4300, 4350, 4400, 4450, 4500, 4550, 4600];
const priceMinor = [3675, 3725, 3775, 3825, 3875, 3925, 3975, 4025, 4075, 4125, 4175, 4225, 4275, 4325, 4375, 4425, 4475, 4525, 4575, 4625];
const doeTicks = [0.5, 0, -0.5, -1];
const doeMinor = [0.75, 0.25, -0.25, -0.75];
const archiTicks = [0, 20, 40, 60, 80];
const archiMinor = [10, 30, 50, 70, 90];
const neoTicks = [0.003, 0.004, 0.005, 0.006, 0.007, 0.008, 0.009];
const neoMinor = [0.0025, 0.0035, 0.0045, 0.0055, 0.0065, 0.0075, 0.0085];
const lastPrice = 4415.24;
const doeLevels = { upper: [0.8, 0.3], lower: [-0.3, -0.8] };
const archiLevels = { high: 95, low: 5 };

// ---------------- RENDER ----------------
const loc = d3.formatLocale({ decimal: ",", thousands: ".", grouping: [3], currency: ["", ""], minus: "-" });
const f2 = loc.format(",.2f");
const f6 = loc.format(".6f");

const YELLOW = "#ffff00";
const FONT = "'Liberation Sans', Arial, sans-serif";
const AXL = 90;
const AXR = 2349;

const x = d3.scaleLinear().domain([0, 277]).range([95.4, 2311.4]);
const doeY = d3.scaleLinear().domain([-0.5, 0.5]).range([231, 104.3]);
const archiY = d3.scaleLinear().domain([0, 80]).range([610, 376]);
const neoY = d3.scaleLinear().domain([0.003, 0.009]).range([922, 655.6]);
const priceY = d3.scaleLinear().domain([3750, 4600]).range([1733.3, 1012.3]);

const panels = {
  doe: [12, 296],
  archi: [299, 617],
  neo: [620, 959],
  price: [962, 1845],
};

function YAxis({ scale, ticks, minor, fmt, clip }: any) {
  return (
    <g clipPath={`url(#${clip})`} fontFamily={FONT} fontWeight="bold" fontSize={16} fill={YELLOW}>
      {ticks.map((t: number) => (
        <g key={"t" + t}>
          <line x1={AXL - 5} x2={AXL} y1={scale(t)} y2={scale(t)} stroke={YELLOW} />
          <line x1={AXR} x2={AXR + 5} y1={scale(t)} y2={scale(t)} stroke={YELLOW} />
          <text x={AXL - 6} y={scale(t)} dy="0.36em" textAnchor="end">{fmt(t)}</text>
          <text x={AXR + 10} y={scale(t)} dy="0.36em">{fmt(t)}</text>
        </g>
      ))}
      {minor.map((t: number) => (
        <g key={"m" + t}>
          <line x1={AXL - 2} x2={AXL} y1={scale(t)} y2={scale(t)} stroke={YELLOW} />
          <line x1={AXR} x2={AXR + 2} y1={scale(t)} y2={scale(t)} stroke={YELLOW} />
        </g>
      ))}
    </g>
  );
}

function Marker({ cx, cy, kind }: { cx: number; cy: number; kind: string }) {
  const cross = "M-5,-1.5h3.5v-3.5h3v3.5h3.5v3h-3.5v3.5h-3v-3.5h-3.5z";
  switch (kind) {
    case "gray": return <circle cx={cx} cy={cy} r={5.5} fill="#c4c4c4" />;
    case "graySmall": return <circle cx={cx} cy={cy} r={3} fill="#8c8c8c" />;
    case "white": return <circle cx={cx} cy={cy} r={3} fill="#ffffff" />;
    case "teal": return <circle cx={cx} cy={cy} r={4} fill="#3cb371" />;
    case "blue": return <circle cx={cx} cy={cy} r={4} fill="#0000ff" />;
    case "red": return <circle cx={cx} cy={cy} r={5.5} fill="#ff0000" />;
    case "green": return <circle cx={cx} cy={cy} r={5.5} fill="#00ff00" />;
    case "orange": return <circle cx={cx} cy={cy} r={5.5} fill="#ffaa66" />;
    case "tan": return <g><circle cx={cx} cy={cy} r={5.5} fill="#c8c8c8" /><circle cx={cx} cy={cy} r={3.5} fill="#d2b48c" /></g>;
    case "redRing": return <g><circle cx={cx} cy={cy} r={5.5} fill="#ff0000" /><circle cx={cx} cy={cy} r={2.5} fill="#ffffff" /></g>;
    case "greenRing": return <g><circle cx={cx} cy={cy} r={5.5} fill="#00ff00" /><circle cx={cx} cy={cy} r={3} fill="#a0a0a0" /></g>;
    case "redCross": return <path d={cross} transform={`translate(${cx},${cy})`} fill="#ff0000" />;
    case "tealCross": return <path d={cross} transform={`translate(${cx},${cy})`} fill="#3cb371" />;
    default: return null;
  }
}

function Widget({ x0 }: { x0: number }) {
  const rows = [1820, 1823, 1826, 1829, 1832, 1835, 1838, 1841, 1844, 1847, 1850, 1853, 1856, 1859, 1862];
  const kind = ["w", "r", "r", "g", "g", "g", "g", "g", "g", "g", "g", "g", "w", "w", "w"];
  return (
    <g>
      <rect x={x0} y={1818} width={80} height={47} fill="#000" />
      {rows.map((y, i) => (
        <g key={i}>
          <line x1={x0} x2={x0 + 80} y1={y} y2={y} stroke="#e8e8e8" strokeWidth={1} />
          {kind[i] !== "w" && (
            <rect x={x0 + 1} y={y + 0.5} width={kind[i] === "r" ? 76 : 70 - (i % 3) * 8} height={2}
              fill={kind[i] === "r" ? "#ff2020" : "#22ee22"} />
          )}
        </g>
      ))}
    </g>
  );
}

export default function App() {
  const line = (ys: any) => d3.line<[number, number]>().x((d) => x(d[0])).y((d) => ys(d[1]));
  const xEnd = x(277);
  const n = barSlot.length;
  const bars = d3.range(n).map((i) => ({
    s: barSlot[i], o: barOpen[i], h: barHigh[i], l: barLow[i], c: barClose[i],
  }));
  const flagY = priceY(lastPrice);

  return (
    <svg width={2439} height={1870} style={{ position: "absolute", left: 0, top: 0, display: "block" }}
      xmlns="http://www.w3.org/2000/svg">
      <defs>
        <clipPath id="cDoe"><rect x={9} y={panels.doe[0]} width={2421} height={panels.doe[1] - panels.doe[0]} /></clipPath>
        <clipPath id="cArchi"><rect x={9} y={panels.archi[0]} width={2421} height={panels.archi[1] - panels.archi[0]} /></clipPath>
        <clipPath id="cNeo"><rect x={9} y={panels.neo[0]} width={2421} height={panels.neo[1] - panels.neo[0]} /></clipPath>
        <clipPath id="cPrice"><rect x={9} y={panels.price[0]} width={2421} height={panels.price[1] - panels.price[0]} /></clipPath>
        <clipPath id="pDoe"><rect x={AXL} y={panels.doe[0]} width={AXR - AXL} height={panels.doe[1] - panels.doe[0]} /></clipPath>
        <clipPath id="pArchi"><rect x={AXL} y={panels.archi[0]} width={AXR - AXL} height={panels.archi[1] - panels.archi[0]} /></clipPath>
        <clipPath id="pNeo"><rect x={AXL} y={panels.neo[0]} width={AXR - AXL} height={panels.neo[1] - panels.neo[0]} /></clipPath>
      </defs>

      {/* page & frame */}
      <rect x={0} y={0} width={2439} height={1870} fill="#ffffff" />
      <line x1={3.5} x2={3.5} y1={0} y2={1870} stroke="#a0a0a0" />
      <line x1={2435.5} x2={2435.5} y1={0} y2={1870} stroke="#a0a0a0" />
      <rect x={9} y={12} width={2421} height={1856} fill="#000000" />

      {/* axis lines */}
      <line x1={AXL + 0.5} x2={AXL + 0.5} y1={12} y2={1866} stroke={YELLOW} />
      <line x1={AXR + 0.5} x2={AXR + 0.5} y1={12} y2={1846} stroke={YELLOW} />

      {/* ===== DoE Point ===== */}
      <YAxis scale={doeY} ticks={doeTicks} minor={doeMinor} fmt={f2} clip="cDoe" />
      <g clipPath="url(#pDoe)">
        {doeLevels.upper.map((v) => (
          <line key={"u" + v} x1={AXL} x2={xEnd - 4} y1={doeY(v)} y2={doeY(v)} stroke="#ff1010" strokeDasharray="4,3" />
        ))}
        {doeLevels.lower.map((v) => (
          <line key={"l" + v} x1={AXL} x2={xEnd - 4} y1={doeY(v)} y2={doeY(v)} stroke="#2ebd72" strokeDasharray="4,3" />
        ))}
        <path d={line(doeY)(doeYellow) || ""} fill="none" stroke="#cccc00" strokeWidth={1} />
        <path d={line(doeY)(doeCyan) || ""} fill="none" stroke="#22d8d8" strokeWidth={1.1} />
        {doeCyan.filter((d) => d[1] > 0.8).map((d) => (
          <circle key={"rd" + d[0]} cx={x(d[0])} cy={doeY(0.8)} r={3.8} fill="#ff0000" />
        ))}
        {doeCyan.filter((d) => d[1] < -0.8).map((d) => (
          <circle key={"gd" + d[0]} cx={x(d[0])} cy={doeY(-0.8)} r={3.8} fill="#00ff00" />
        ))}
      </g>
      <text x={96} y={31.5} fontFamily={FONT} fontSize={16} fill={YELLOW}>DoE Point</text>

      {/* ===== Archicortex ===== */}
      <YAxis scale={archiY} ticks={archiTicks} minor={archiMinor} fmt={f2} clip="cArchi" />
      <g clipPath="url(#pArchi)">
        <line x1={AXL} x2={xEnd} y1={archiY(archiLevels.high)} y2={archiY(archiLevels.high)} stroke="#11cc11" strokeDasharray="10,4,2,4" />
        <line x1={AXL} x2={xEnd} y1={archiY(archiLevels.low)} y2={archiY(archiLevels.low)} stroke="#dd1111" strokeDasharray="10,4,2,4" />
        <path d={line(archiY)(archiRed) || ""} fill="none" stroke="#e00000" strokeWidth={1.1} />
        <path d={line(archiY)(archiGreen) || ""} fill="none" stroke="#33cc00" strokeWidth={1.1} />
      </g>
      <text x={96} y={317} fontFamily={FONT} fontSize={16} fill={YELLOW}>Archicortex</text>

      {/* ===== Neocortex ===== */}
      <YAxis scale={neoY} ticks={neoTicks} minor={neoMinor} fmt={f6} clip="cNeo" />
      <g clipPath="url(#pNeo)">
        <path d={line(neoY)(neoDotted) || ""} fill="none" stroke="#b8a888" strokeWidth={1} strokeDasharray="2,2" />
        <path d={line(neoY)(neoCyan) || ""} fill="none" stroke="#33cccc" strokeWidth={1.2} />
        <path d={line(neoY)(neoYellow) || ""} fill="none" stroke="#e8e800" strokeWidth={1.2} />
      </g>
      <text x={96} y={637} fontFamily={FONT} fontSize={16} fill={YELLOW}>Neocortex</text>

      {/* ===== Price ===== */}
      <YAxis scale={priceY} ticks={priceTicks} minor={priceMinor} fmt={f2} clip="cPrice" />
      <g>
        {bars.map((b, i) => {
          const cx = Math.round(x(b.s));
          const up = b.c >= b.o;
          const top = priceY(Math.max(b.o, b.c));
          const bot = priceY(Math.min(b.o, b.c));
          const h = Math.max(2, bot - top);
          return (
            <g key={i}>
              <line x1={cx + 0.5} x2={cx + 0.5} y1={priceY(b.h)} y2={priceY(b.l)} stroke="#ffffff" />
              <rect x={cx - 2} y={h === 2 ? (top + bot) / 2 - 1 : top} width={5} height={h} fill={up ? "#00ff00" : "#ff0000"} />
            </g>
          );
        })}
        {priceMarkers.map((m, i) => (
          <Marker key={i} cx={x(m[0]) + 0.5} cy={priceY(m[1])} kind={m[2]} />
        ))}
      </g>

      {/* legend */}
      <g fontFamily={FONT} fontSize={16}>
        <text x={96} y={982} fill={YELLOW} textLength={271} lengthAdjust="spacingAndGlyphs">EW-Croc Longsignale Abstandstest 3</text>
        <text x={386} y={982} fill={YELLOW} textLength={275} lengthAdjust="spacingAndGlyphs">EW-Croc Shortsignale Abstandstest 3</text>
        <text x={682} y={982} fill={YELLOW} textLength={200} lengthAdjust="spacingAndGlyphs">ICE Bear/Bull 1 Punkt/Kreis</text>
        <text x={900} y={982} fill="#ffffff" textLength={42} lengthAdjust="spacingAndGlyphs">$SPX</text>
        <rect x={952.5} y={966.5} width={16} height={18} fill="#000" stroke="#ffffff" />
        <path d="M957.5,974 h6 l-3,4 z" fill="#ffffff" />
        <rect x={980.5} y={966.5} width={20} height={18} fill="#000" stroke="#ffffff" />
        <text x={984} y={981} fill="#ffffff" fontSize={15}>I</text>
        <path d="M990,974 h6 l-3,4 z" fill="#ffffff" />
        <text x={1012} y={982} fill="#ffffff" textLength={161} lengthAdjust="spacingAndGlyphs">S&amp;P 500 Index  1 Day</text>
        <rect x={1183.5} y={966.5} width={16} height={18} fill="#000" stroke="#ffffff" />
        <path d="M1188.5,974 h6 l-3,4 z" fill="#ffffff" />
        <rect x={1210.5} y={966.5} width={26} height={18} fill="#ff0000" stroke="#ffffff" />
        <text x={1213} y={981} fill="#600000" fontSize={15}>R</text>
        <path d="M1225,974 h6 l-3,4 z" fill="#600000" />
      </g>

      {/* watermark */}
      <text x={1470} y={1517} fontFamily={FONT} fontWeight="bold" fontStyle="italic" fontSize={52} fill={YELLOW}
        textLength={288} lengthAdjust="spacingAndGlyphs">Psychator</text>
      <text x={1412} y={1598} fontFamily={FONT} fontWeight="bold" fontStyle="italic" fontSize={30} fill={YELLOW}
        textLength={350} lengthAdjust="spacingAndGlyphs">S&amp;P 500 Index (Tag)</text>

      {/* last price flags */}
      <path d={`M${AXR + 2},${flagY} L${AXR + 9},${flagY - 8.5} H2429 V${flagY + 8.5} H${AXR + 9} Z`} fill="#1fef1f" />
      <text x={2360} y={flagY + 6} fontFamily={FONT} fontWeight="bold" fontSize={16} fill="#000">{f2(lastPrice)}</text>
      <path d={`M9,${flagY - 8.5} H${AXL - 8} L${AXL - 1},${flagY} L${AXL - 8},${flagY + 8.5} H9 Z`} fill="#1fef1f" />
      <text x={12} y={flagY + 6} fontFamily={FONT} fontWeight="bold" fontSize={16} fill="#000">{f2(lastPrice)}</text>

      {/* x axis */}
      <line x1={AXL} x2={AXR + 1} y1={1845.5} y2={1845.5} stroke={YELLOW} />
      <g fontFamily={FONT} fontWeight="bold" fontSize={16} fill={YELLOW}>
        {monthSlots.map((s, i) => (
          <g key={i}>
            <line x1={Math.round(x(s)) + 0.5} x2={Math.round(x(s)) + 0.5} y1={1846} y2={monthLabels[i] === "2023" ? 1867 : 1852} stroke={YELLOW} />
            <text x={x(s) + 2} y={1864}>{monthLabels[i]}</text>
          </g>
        ))}
      </g>

      {/* widgets */}
      <Widget x0={10} />
      <Widget x0={2350} />

      {/* panel separators */}
      {[296, 617, 959].map((y) => (
        <g key={y}>
          <rect x={9} y={y} width={2421} height={3} fill="#ffffff" />
          <line x1={9} x2={2430} y1={y + 2.5} y2={y + 2.5} stroke="#b0b0b0" />
        </g>
      ))}

      {/* top-right icon */}
      <g>
        <polyline points="2386,45 2395,38 2402,43 2416,31" fill="none" stroke="#3a4a6a" strokeWidth={1} />
        <path d="M2385,52 L2392,46 V49 H2401 V55 H2392 V58 Z" fill="#3cb371" />
        <path d="M2417,52 L2410,46 V49 H2401 V55 H2410 V58 Z" fill="#e8785e" />
      </g>
    </svg>
  );
}
